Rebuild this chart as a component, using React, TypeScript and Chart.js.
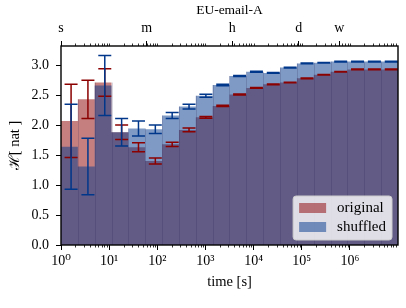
import React, { useEffect, useRef } from "react";
import { Chart, registerables } from "chart.js";

Chart.register(...registerables);

// ---- data ----
const binEdges = [
  1, 2.239, 5.012, 11.22, 25.12, 56.23, 125.9, 281.8, 631.0, 1413, 3162, 7079,
  15849, 35481, 79433, 177828, 398107, 891251, 1995262, 4466836, 10000000,
];
const originalEntropy = [
  2.07, 2.43, 2.71, 1.88, 1.63, 1.40, 1.68, 1.92, 2.13, 2.32, 2.51, 2.62, 2.68,
  2.71, 2.78, 2.84, 2.89, 2.93, 2.93, 2.93,
];
const originalError = [
  0.61, 0.32, 0.23, 0.12, 0.075, 0.05, 0.035, 0.03, 0.015, 0.01, 0.008, 0.006,
  0.005, 0.005, 0.005, 0.005, 0.005, 0.005, 0.005, 0.005,
];
const shuffledEntropy = [
  1.64, 1.31, 2.66, 1.88, 1.945, 1.93, 2.16, 2.31, 2.49, 2.67, 2.82, 2.89, 2.87,
  2.96, 3.03, 3.04, 3.06, 3.06, 3.06, 3.06,
];
const shuffledError = [
  0.71, 0.47, 0.5, 0.23, 0.125, 0.07, 0.05, 0.04, 0.025, 0.013, 0.009, 0.007,
  0.006, 0.006, 0.005, 0.005, 0.005, 0.005, 0.005, 0.005,
];
const seriesLabels = ["original", "shuffled"];
const xMajorTicks = [1, 10, 100, 1000, 10000, 100000, 1000000];
const xMajorLabels = ["10⁰", "10¹", "10²", "10³", "10⁴", "10⁵", "10⁶"];
const decades = [1, 10, 100, 1000, 10000, 100000, 1000000];
const minorMultipliers = [2, 3, 4, 5, 6, 7, 8, 9];
const yTicks = [0, 0.5, 1, 1.5, 2, 2.5, 3];
const topTickValues = [1, 60, 3600, 86400, 604800];
const topTickLabels = ["s", "m", "h", "d", "w"];
const chartTitle = "EU-email-A";
const xTitle = "time [s]";
const yTitle = "ℋ[ nat ]";

// ---- styles ----
const FONT = "'Liberation Serif', 'DejaVu Serif', serif";
const RED = "rgb(139,0,0)";
const BLUE = "rgb(0,55,139)";
const RED_FILL = "rgba(139,0,0,0.5)";
const BLUE_FILL = "rgba(0,55,139,0.5)";

function stepPoints(h: number[]) {
  const pts = h.map((v, i) => ({ x: binEdges[i], y: v }));
  pts.push({ x: binEdges[h.length], y: h[h.length - 1] });
  return pts;
}

const overlayPlugin = {
  id: "overlay",
  afterDatasetsDraw(chart: any) {
    const ctx = chart.ctx;
    const xs = chart.scales.x;
    const ys = chart.scales.y;
    ctx.save();
    // faint bar edges at interior bin boundaries
    ctx.strokeStyle = "rgba(40,30,80,0.18)";
    ctx.lineWidth = 1;
    ctx.beginPath();
    for (let i = 1; i < binEdges.length - 1; i++) {
      const px = Math.round(xs.getPixelForValue(binEdges[i])) + 0.5;
      const top = Math.max(
        originalEntropy[i - 1],
        originalEntropy[i],
        shuffledEntropy[i - 1],
        shuffledEntropy[i]
      );
      ctx.moveTo(px, ys.getPixelForValue(0));
      ctx.lineTo(px, ys.getPixelForValue(top));
    }
    ctx.stroke();
    // error bars
    const series = [
      { h: originalEntropy, e: originalError, color: RED },
      { h: shuffledEntropy, e: shuffledError, color: BLUE },
    ];
    const cap = 6.5;
    ctx.lineWidth = 1.5;
    for (const s of series) {
      ctx.strokeStyle = s.color;
      for (let i = 0; i < s.h.length; i++) {
        const xc = xs.getPixelForValue((binEdges[i] + binEdges[i + 1]) / 2);
        const y1 = ys.getPixelForValue(s.h[i] + s.e[i]);
        const y0 = ys.getPixelForValue(s.h[i] - s.e[i]);
        ctx.beginPath();
        ctx.moveTo(xc, y0);
        ctx.lineTo(xc, y1);
        ctx.moveTo(xc - cap, y0);
        ctx.lineTo(xc + cap, y0);
        ctx.moveTo(xc - cap, y1);
        ctx.lineTo(xc + cap, y1);
        ctx.stroke();
      }
    }
    ctx.restore();
  },
  afterDraw(chart: any) {
    const ctx = chart.ctx;
    const a = chart.chartArea;
    const xs = chart.scales.x;
    ctx.save();
    // minor ticks (bottom and top)
    ctx.strokeStyle = "#000";
    ctx.lineWidth = 0.8;
    ctx.beginPath();
    for (const d of decades) {
      for (const m of [1, ...minorMultipliers]) {
        const v = d * m;
        if (v > 1e7) continue;
        const px = Math.round(xs.getPixelForValue(v)) + 0.5;
        if (m !== 1) {
          ctx.moveTo(px, a.bottom);
          ctx.lineTo(px, a.bottom + 2.5);
        }
        ctx.moveTo(px, a.top);
        ctx.lineTo(px, a.top - 2.5);
      }
    }
    ctx.stroke();
    // frame
    ctx.lineWidth = 1.4;
    ctx.strokeRect(a.left, a.top, a.right - a.left, a.bottom - a.top);
    // title
    ctx.fillStyle = "#000";
    ctx.font = `13.5px ${FONT}`;
    ctx.textAlign = "center";
    ctx.textBaseline = "middle";
    ctx.fillText(chartTitle, (a.left + a.right) / 2, 10);
    // legend
    ctx.font = `15px ${FONT}`;
    const tw = Math.max(...seriesLabels.map((l) => ctx.measureText(l).width));
    const pad = 6;
    const patchW = 27;
    const patchH = 10;
    const gap = 11;
    const rowH = 19;
    const w = pad + patchW + gap + tw + pad;
    const h = 44;
    const right = a.right - 6;
    const bottom = a.bottom - 5;
    const left = right - w;
    const top = bottom - h;
    const r = 3;
    ctx.beginPath();
    ctx.moveTo(left + r, top);
    ctx.arcTo(right, top, right, bottom, r);
    ctx.arcTo(right, bottom, left, bottom, r);
    ctx.arcTo(left, bottom, left, top, r);
    ctx.arcTo(left, top, right, top, r);
    ctx.closePath();
    ctx.fillStyle = "rgba(255,255,255,0.8)";
    ctx.fill();
    ctx.strokeStyle = "rgb(204,204,204)";
    ctx.lineWidth = 1;
    ctx.stroke();
    const fills = [RED_FILL, BLUE_FILL];
    ctx.textAlign = "left";
    ctx.textBaseline = "middle";
    seriesLabels.forEach((label, i) => {
      const cy = top + 12 + i * rowH;
      ctx.fillStyle = fills[i];
      ctx.fillRect(left + pad, cy - patchH / 2, patchW, patchH);
      ctx.fillStyle = "#000";
      ctx.fillText(label, left + pad + patchW + gap, cy + 0.5);
    });
    ctx.restore();
  },
};

export default function App() {
  const ref = useRef<HTMLCanvasElement | null>(null);
  useEffect(() => {
    const canvas = ref.current;
    if (!canvas) return;
    const tickFont = { family: FONT, size: 14 };
    const chart = new Chart(canvas, {
      type: "line",
      data: {
        datasets: [
          {
            label: seriesLabels[0],
            data: stepPoints(originalEntropy),
            stepped: true,
            fill: "origin",
            backgroundColor: RED_FILL,
            borderColor: "rgba(0,0,0,0)",
            borderWidth: 1,
            pointRadius: 0,
            order: 1,
          },
          {
            label: seriesLabels[1],
            data: stepPoints(shuffledEntropy),
            stepped: true,
            fill: "origin",
            backgroundColor: BLUE_FILL,
            borderColor: "rgba(0,0,0,0)",
            borderWidth: 1,
            pointRadius: 0,
            order: 0,
          },
        ],
      },
      options: {
        responsive: false,
        animation: false,
        events: [],
        layout: { padding: { left: 0, right: 8, top: 0, bottom: 0 } },
        plugins: {
          legend: { display: false },
          title: { display: false },
          tooltip: { enabled: false },
        },
        scales: {
          x: {
            type: "logarithmic",
            position: "bottom",
            min: 1,
            max: 1e7,
            afterBuildTicks: (s: any) => {
              s.ticks = xMajorTicks.map((v) => ({ value: v }));
            },
            afterFit: (s: any) => {
              s.height = 63;
            },
            ticks: {
              autoSkip: false,
              maxRotation: 0,
              padding: 3,
              color: "#000",
              font: tickFont,
              callback: (_v: any, i: number) => xMajorLabels[i],
            },
            grid: {
              drawOnChartArea: false,
              drawTicks: true,
              tickLength: 5,
              tickColor: "#000",
              tickWidth: 1,
            },
            border: { display: false },
            title: {
              display: true,
              text: xTitle,
              color: "#000",
              font: { family: FONT, size: 14.5 },
              padding: { top: 0, bottom: 17 },
            },
          },
          x2: {
            type: "logarithmic",
            position: "top",
            min: 1,
            max: 1e7,
            afterBuildTicks: (s: any) => {
              s.ticks = topTickValues.map((v) => ({ value: v }));
            },
            afterFit: (s: any) => {
              s.height = 46;
            },
            ticks: {
              autoSkip: false,
              maxRotation: 0,
              padding: 4,
              color: "#000",
              font: tickFont,
              callback: (_v: any, i: number) => topTickLabels[i],
            },
            grid: {
              drawOnChartArea: false,
              drawTicks: true,
              tickLength: 5,
              tickColor: "#000",
              tickWidth: 1,
            },
            border: { display: false },
          },
          y: {
            type: "linear",
            position: "left",
            min: 0,
            max: 3.32,
            afterBuildTicks: (s: any) => {
              s.ticks = yTicks.map((v) => ({ value: v }));
            },
            afterFit: (s: any) => {
              s.width = 61;
            },
            ticks: {
              padding: 7,
              color: "#000",
              font: tickFont,
              callback: (v: any) => Number(v).toFixed(1),
            },
            grid: {
              drawOnChartArea: false,
              drawTicks: true,
              tickLength: 5,
              tickColor: "#000",
              tickWidth: 1,
            },
            border: { display: false },
            title: {
              display: true,
              text: yTitle,
              color: "#000",
              font: { family: FONT, size: 14.5 },
              padding: { top: 6, bottom: 0 },
            },
          },
        },
      },
      plugins: [overlayPlugin],
    } as any);
    return () => chart.destroy();
  }, []);
  return (
    <div style={{ position: "fixed", left: 0, top: 0, width: 406, height: 308, background: "#fff" }}>
      <canvas ref={ref} width={406} height={308} style={{ display: "block" }} />
    </div>
  );
}
